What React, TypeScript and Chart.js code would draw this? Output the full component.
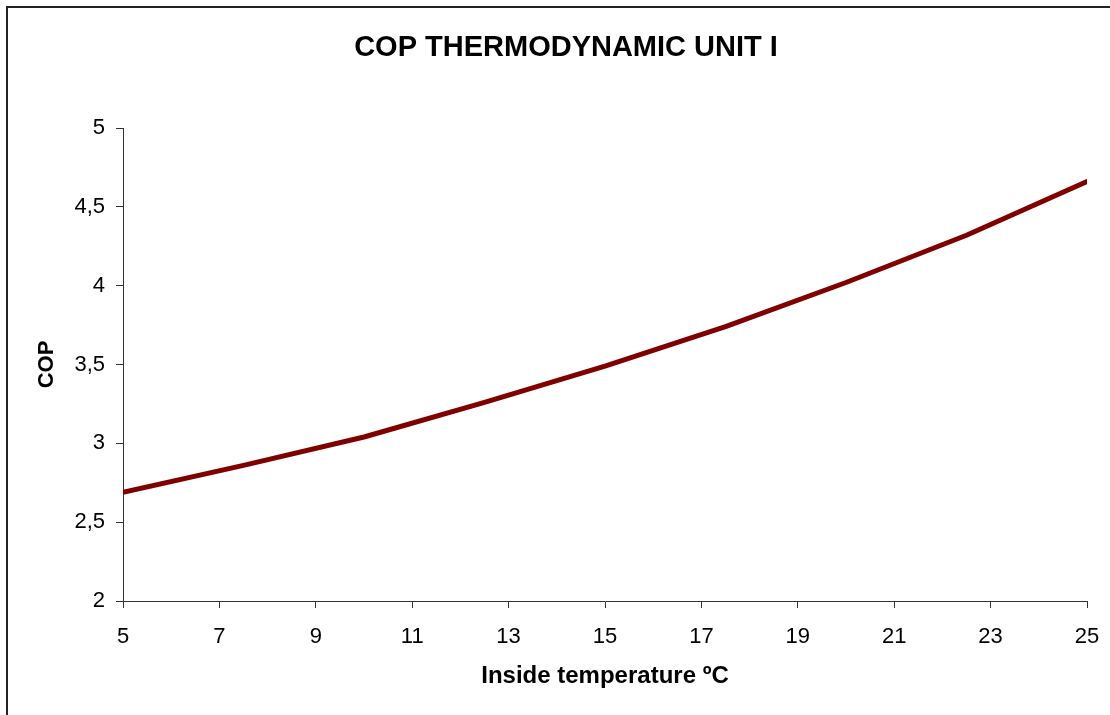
import React, { useEffect, useRef } from "react";
import { Chart, registerables } from "chart.js";

Chart.register(...registerables);

const temperatures = [5, 7.5, 10, 12.5, 15, 17.5, 20, 22.5, 25];
const copValues = [2.69, 2.86, 3.04, 3.26, 3.49, 3.74, 4.02, 4.32, 4.66];
const chartTitle = "COP THERMODYNAMIC UNIT I";
const xTitle = "Inside temperature ºC";
const yTitle = "COP";

const FONT = "'Liberation Sans', Arial, Helvetica, sans-serif";

export default function App() {
  const ref = useRef<HTMLCanvasElement | null>(null);

  useEffect(() => {
    if (!ref.current) return;
    const chart = new Chart(ref.current, {
      type: "line",
      data: {
        datasets: [
          {
            data: temperatures.map((t, i) => ({ x: t, y: copValues[i] })),
            borderColor: "#800000",
            backgroundColor: "#800000",
            borderWidth: 5,
            pointRadius: 0,
            tension: 0,
            borderCapStyle: "round",
            borderJoinStyle: "round",
          },
        ],
      },
      options: {
        responsive: false,
        animation: false,
        layout: { padding: { left: 45, right: 23, top: 0, bottom: 24 } },
        plugins: {
          legend: { display: false },
          tooltip: { enabled: false },
          title: {
            display: true,
            text: chartTitle,
            color: "#000",
            font: { family: FONT, size: 29, weight: "bold" },
            padding: { top: 30.6, bottom: 62.6 },
          },
        },
        scales: {
          x: {
            type: "linear",
            min: 5,
            max: 25,
            afterFit: (scale: any) => {
              scale.height = 90;
              scale.paddingLeft = 0;
              scale.paddingRight = 0;
            },
            ticks: {
              stepSize: 2,
              color: "#000",
              padding: 16,
              maxRotation: 0,
              font: { family: FONT, size: 22 },
            },
            grid: {
              drawOnChartArea: false,
              drawTicks: true,
              tickLength: 7,
              color: "#333",
            },
            border: { display: true, color: "#333", width: 1 },
            title: {
              display: true,
              text: xTitle,
              color: "#000",
              font: { family: FONT, size: 24, weight: "bold" },
              padding: { top: 0, bottom: 0 },
            },
          },
          y: {
            type: "linear",
            min: 2,
            max: 5,
            afterFit: (scale: any) => {
              scale.width = 78;
            },
            ticks: {
              stepSize: 0.5,
              color: "#000",
              padding: 11,
              font: { family: FONT, size: 22 },
              callback: (v: any) => String(v).replace(".", ","),
            },
            grid: {
              drawOnChartArea: false,
              drawTicks: true,
              tickLength: 7,
              color: "#333",
            },
            border: { display: true, color: "#333", width: 1 },
            title: {
              display: true,
              text: yTitle,
              color: "#000",
              font: { family: FONT, size: 22, weight: "bold" },
              padding: { top: -11.2, bottom: 0 },
            },
          },
        },
      },
    });
    return () => chart.destroy();
  }, []);

  return (
    <div
      style={{
        position: "fixed",
        left: 0,
        top: 0,
        width: 1110,
        height: 715,
        overflow: "hidden",
        background: "#fff",
      }}
    >
      <div
        style={{
          position: "absolute",
          left: 6,
          top: 6,
          width: 1200,
          height: 800,
          borderLeft: "2px solid #222",
          borderTop: "2px solid #222",
        }}
      />
      <canvas
        ref={ref}
        width={1110}
        height={715}
        style={{ position: "absolute", left: 0, top: 0, width: 1110, height: 715 }}
      />
    </div>
  );
}
